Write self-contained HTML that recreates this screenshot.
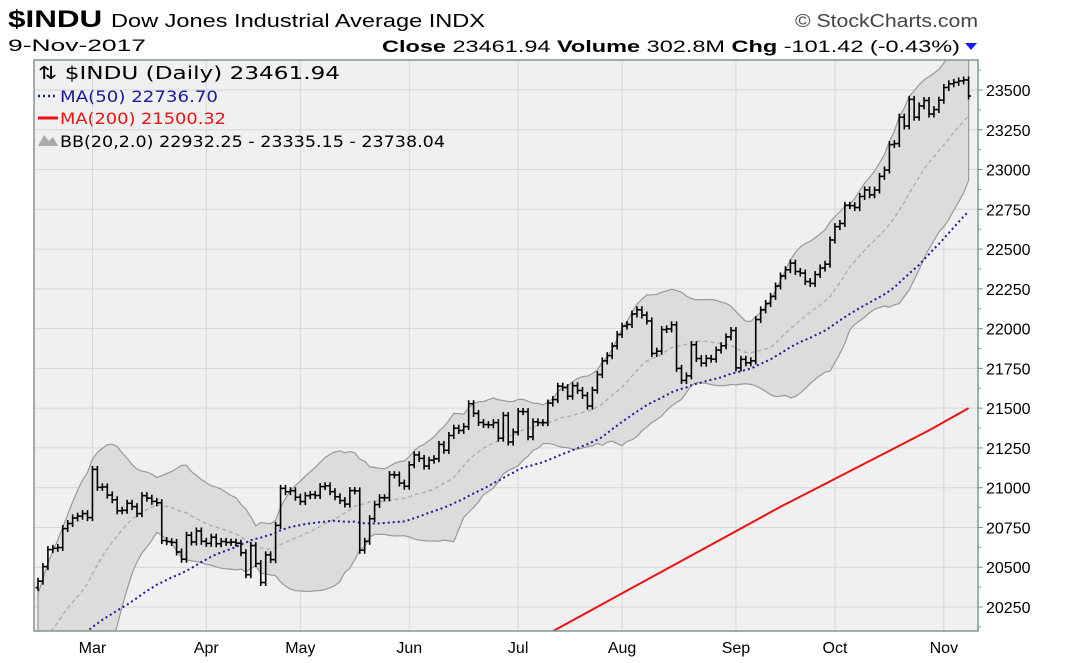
<!DOCTYPE html>
<html><head><meta charset="utf-8"><style>
html,body{margin:0;background:#fff;width:1083px;height:663px;overflow:hidden;font-family:"Liberation Sans",sans-serif}
svg{position:absolute;left:0;top:0;display:block}
</style></head><body>
<svg id="c" width="1083" height="663" font-family="Liberation Sans, sans-serif">
<text x="8" y="27" font-size="24" font-weight="bold" textLength="477" lengthAdjust="spacingAndGlyphs">$INDU <tspan font-weight="normal" font-size="18">Dow Jones Industrial Average INDX</tspan></text>
<text x="8" y="51" font-size="17" textLength="138" lengthAdjust="spacingAndGlyphs">9-Nov-2017</text>
<text x="795" y="27" font-size="18" fill="#444" textLength="183" lengthAdjust="spacingAndGlyphs">© StockCharts.com</text>
<text x="382" y="52" font-size="17" textLength="578" lengthAdjust="spacingAndGlyphs"><tspan font-weight="bold">Close</tspan> 23461.94  <tspan font-weight="bold">Volume</tspan> 302.8M  <tspan font-weight="bold">Chg</tspan> -101.42 (-0.43%)</text>
<polygon points="965,43 977,43 971,50" fill="#1a1aff"/>
</svg>
<script>
const prefixCloses=[19192,19171,19216,19252,19549,19615,19757,19797,19911,19792,19853,19843,19883,19975,19942,19919,19934,19946,19833,19819,19763,19882,19943,19900,19964,19887,19856,19954,19892,19886,19826,19805,19732,19827,19799,19912,20069,20100,20093,19971,19864,19890,19884,20071,20052,20090,20054,20172,20269];
const closes=[20412,20504,20611,20619,20624,20743,20775,20810,20821,20837,20812,
21115,21002,21005,20954,20924,20855,20858,20902,20881,20837,20950,20934,20914,20905,20668,20661,20656,20596,20550,20701,20659,20728,20663,
20650,20689,20648,20662,20656,20658,20651,20591,20453,20636,20523,20404,20578,20548,20763,20996,20975,20981,20940,
20913,20950,20957,20951,21007,21012,20975,20943,20919,20897,20982,20980,20607,20663,20805,20894,20937,20937,21082,21080,21029,21009,
21144,21206,21184,21136,21173,21182,21272,21235,21328,21374,21360,21384,21528,21467,21410,21397,21395,21409,21311,21454,21287,21350,
21479,21478,21320,21414,21409,21409,21532,21554,21638,21629,21575,21641,21611,21580,21513,21613,21711,21797,21830,21891,
21963,22016,22026,22092,22118,22085,22048,21844,21858,21994,21998,22024,21750,21674,21703,21899,21812,21783,21813,21808,21865,21892,21948,
21988,21753,21807,21785,21797,22057,22118,22158,22203,22268,22331,22370,22412,22359,22349,22296,22284,22340,22381,22405,
22557,22641,22661,22775,22773,22761,22831,22872,22841,22871,22957,22997,23157,23163,23329,23274,23441,23329,23400,23434,23349,23377,
23436,23516,23539,23548,23557,23563,23462];
const ma200Idx=[100,110,120,130,140,150,160,170,180,188];
const ma200Vals=[20030,20200,20370,20540,20710,20880,21040,21200,21360,21500];
const yTicks=[20250,20500,20750,21000,21250,21500,21750,22000,22250,22500,22750,23000,23250,23500];
const months=["Mar","Apr","May","Jun","Jul","Aug","Sep","Oct","Nov"];
const monthIdx=[11,34,53,75,97,118,141,161,183];

const L=34,T=60,R=978,B=631;
const ys=v=>90+(23500-v)/250*39.77;
const xs=i=>38+i*4.95;
const NS="http://www.w3.org/2000/svg";
const svg=document.getElementById('c');
function mk(tag,attrs,parent){const e=document.createElementNS(NS,tag);for(const k in attrs)e.setAttribute(k,attrs[k]);(parent||svg).appendChild(e);return e;}

mk('rect',{x:L,y:T,width:R-L,height:B-T,fill:'#f0f0f0'});
const defs=mk('defs',{});
const clip=mk('clipPath',{id:'pc'},defs);mk('rect',{x:L,y:T,width:R-L,height:B-T},clip);
const g=mk('g',{'clip-path':'url(#pc)'});
yTicks.forEach(v=>{const l=mk('line',{x1:L,x2:R,y1:ys(v),y2:ys(v),stroke:'#d6d6d6','stroke-width':1},g);

const t=mk('text',{x:986,y:ys(v)+6,'font-size':16});t.textContent=v;

mk('line',{x1:R,x2:R+5,y1:ys(v),y2:ys(v),stroke:'#7a9a90'});});
for(let v=20125;v<23700;v+=125){const y=ys(v);if(y>T&&y<B)mk('line',{x1:R,x2:R+3,y1:y,y2:y,stroke:'#7a9a90'});}
months.forEach((m,k)=>{const x=xs(monthIdx[k]);const l=mk('line',{x1:x,x2:x,y1:T,y2:B,stroke:'#d6d6d6'},g);

const t=mk('text',{x:x,y:653,'font-size':16,'text-anchor':'middle'});t.textContent=m;
});

const all=prefixCloses.concat(closes),P=prefixCloses.length;
const up=[],lo=[],mid=[],ma50=[];
closes.forEach((c,i)=>{const j=i+P;const w=all.slice(j-19,j+1);const m=w.reduce((a,b)=>a+b,0)/20;
const sd=Math.sqrt(w.reduce((a,b)=>a+(b-m)*(b-m),0)/20);mid.push(m);up.push(m+2*sd);lo.push(m-2*sd);
const w5=all.slice(Math.max(0,j-49),j+1);ma50.push(w5.reduce((a,b)=>a+b,0)/w5.length);});
let d='M'+closes.map((c,i)=>xs(i)+','+ys(up[i])).join('L');
for(let i=closes.length-1;i>=0;i--)d+='L'+xs(i)+','+ys(lo[i]);d+='Z';
const band=mk('path',{d:d,fill:'#dcdcdc',stroke:'#999','stroke-width':1.2},g);

const md=mk('polyline',{points:closes.map((c,i)=>xs(i)+','+ys(mid[i])).join(' '),fill:'none',stroke:'#aaa','stroke-width':1.3,'stroke-dasharray':'4,3'},g);

const m5=mk('polyline',{points:closes.map((c,i)=>xs(i)+','+ys(ma50[i])).join(' '),fill:'none',stroke:'#1a1a9a','stroke-width':2,'stroke-dasharray':'2,3'},g);

const m2=mk('polyline',{points:ma200Idx.map((i,k)=>xs(i)+','+ys(ma200Vals[k])).join(' '),fill:'none',stroke:'#ee1111','stroke-width':2},g);

closes.forEach((c,i)=>{const o=i?closes[i-1]:c-40;const hi=Math.max(o,c)+22,lw=Math.min(o,c)-22;const x=xs(i);
const bg=mk('g',{stroke:'#000','stroke-width':1.6},g);

mk('line',{x1:x,x2:x,y1:ys(hi),y2:ys(lw)},bg);
mk('line',{x1:x-2.5,x2:x,y1:ys(o),y2:ys(o)},bg);
mk('line',{x1:x,x2:x+2.5,y1:ys(c),y2:ys(c)},bg);});
mk('rect',{x:L,y:T,width:R-L,height:B-T,fill:'none',stroke:'#7a9a90','stroke-width':1.5});

const lg=[["⇅ $INDU (Daily) 23461.94","#000",79,38,302,18],["MA(50) 22736.70","#1a1a9a",102,60,158,16],["MA(200) 21500.32","#ee1111",124,60,166,16],["BB(20,2.0) 22932.25 - 23335.15 - 23738.04","#000",147,60,385,16]];
lg.forEach(r=>{const t=mk('text',{x:r[3],y:r[2],'font-size':r[5],fill:r[1],'font-family':'DejaVu Sans, sans-serif',textLength:r[4],lengthAdjust:'spacingAndGlyphs'});t.textContent=r[0];
});
mk('line',{x1:38,x2:58,y1:96,y2:96,stroke:'#1a1a9a','stroke-width':2.5,'stroke-dasharray':'2,3'});
mk('line',{x1:38,x2:58,y1:118,y2:118,stroke:'#ee1111','stroke-width':3});
mk('polygon',{points:'38,146 44,135 49,141 53,137 58,146',fill:'#aaa'});
</script>
</body></html>
